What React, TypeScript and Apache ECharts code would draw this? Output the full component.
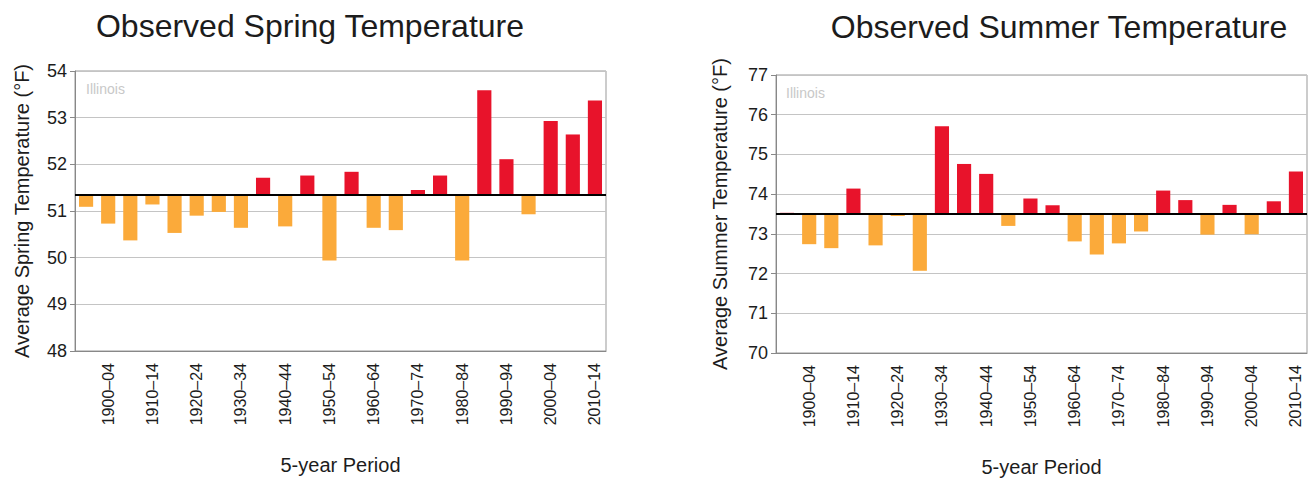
import React, { useEffect, useRef } from "react";
import * as echarts from "echarts";

const periods = [
  "1895–99", "1900–04", "1905–09", "1910–14", "1915–19", "1920–24", "1925–29", "1930–34",
  "1935–39", "1940–44", "1945–49", "1950–54", "1955–59", "1960–64", "1965–69", "1970–74",
  "1975–79", "1980–84", "1985–89", "1990–94", "1995–99", "2000–04", "2005–09", "2010–14",
];

const springValues = [
  51.09, 50.73, 50.37, 51.14, 50.53, 50.9, 50.98, 50.64, 51.71, 50.67, 51.76, 49.94,
  51.84, 50.64, 50.59, 51.45, 51.76, 49.94, 53.59, 52.11, 50.93, 52.93, 52.64, 53.37,
];
const springBaseline = 51.34;

const summerValues = [
  73.53, 72.74, 72.64, 74.14, 72.71, 73.45, 72.07, 75.71, 74.76, 74.51, 73.2, 73.89,
  73.72, 72.81, 72.48, 72.76, 73.06, 74.09, 73.85, 72.98, 73.73, 72.99, 73.82, 74.57,
];
const summerBaseline = 73.5;

const springTicks = { min: 48, max: 54 };
const summerTicks = { min: 70, max: 77 };

const RED = "#e8132b";
const ORANGE = "#fbaa3a";
const FONT = "'Liberation Sans', Arial, sans-serif";
const TEXT = "#1c1c1c";

export default function App() {
  const ref = useRef<HTMLDivElement>(null);

  useEffect(() => {
    if (!ref.current) return;
    const chart = echarts.init(ref.current, undefined, { renderer: "svg" });

    const grids = [
      { left: 75, top: 71, width: 531, height: 280 },
      { left: 776, top: 75, width: 531, height: 281 },
    ];

    const makeX = (gridIndex: number, nameGap: number) => ({
      type: "category",
      gridIndex,
      data: periods,
      boundaryGap: true,
      name: "5-year Period",
      nameLocation: "middle",
      nameGap,
      nameTextStyle: { fontFamily: FONT, fontSize: 20, color: TEXT },
      axisLine: { lineStyle: { color: "#888", width: 1 } },
      axisTick: { alignWithLabel: true, interval: 0, length: 5, lineStyle: { color: "#888" } },
      axisLabel: {
        rotate: 90,
        interval: (i: number) => i % 2 === 1,
        fontFamily: FONT,
        fontSize: 16,
        color: TEXT,
        margin: 12,
      },
      splitLine: { show: false },
    });

    const makeY = (gridIndex: number, ticks: { min: number; max: number }, name: string, nameGap: number) => ({
      type: "value",
      gridIndex,
      min: ticks.min,
      max: ticks.max,
      interval: 1,
      name,
      nameLocation: "middle",
      nameRotate: 90,
      nameGap,
      nameTextStyle: { fontFamily: FONT, fontSize: 20, color: TEXT },
      axisLine: { show: true, lineStyle: { color: "#888" } },
      axisTick: { show: true, length: 5, lineStyle: { color: "#888" } },
      axisLabel: { fontFamily: FONT, fontSize: 18, color: TEXT, margin: 8 },
      splitLine: { lineStyle: { color: "#c4c4c4", width: 1 } },
    });

    const makeSeries = (idx: number, values: number[], base: number) => {
      const stack = "s" + idx;
      return [
        {
          type: "bar",
          xAxisIndex: idx,
          yAxisIndex: idx,
          stack,
          barWidth: "64%",
          silent: true,
          itemStyle: { color: "transparent" },
          data: values.map((v) => Math.min(v, base)),
        },
        {
          type: "bar",
          xAxisIndex: idx,
          yAxisIndex: idx,
          stack,
          barWidth: "64%",
          data: values.map((v) => ({
            value: Math.abs(v - base),
            itemStyle: { color: v >= base ? RED : ORANGE },
          })),
          markLine: {
            silent: true,
            symbol: "none",
            label: { show: false },
            lineStyle: { color: "#000", width: 2, type: "solid" },
            data: [{ yAxis: base }],
          },
        },
      ];
    };

    chart.setOption({
      animation: false,
      backgroundColor: "#fff",
      title: [
        {
          text: "Observed Spring Temperature",
          left: 305,
          top: 5,
          textAlign: "center",
          textStyle: { fontFamily: FONT, fontSize: 32, fontWeight: "normal", color: TEXT },
        },
        {
          text: "Observed Summer Temperature",
          left: 1054,
          top: 6,
          textAlign: "center",
          textStyle: { fontFamily: FONT, fontSize: 32, fontWeight: "normal", color: TEXT },
        },
      ],
      grid: grids.map((g) => ({
        ...g,
        show: true,
        borderColor: "#999",
        borderWidth: 1,
        backgroundColor: "transparent",
      })),
      xAxis: [makeX(0, 104), makeX(1, 104)],
      yAxis: [
        makeY(0, springTicks, "Average Spring Temperature (°F)", 43),
        makeY(1, summerTicks, "Average Summer Temperature (°F)", 46),
      ],
      series: [...makeSeries(0, springValues, springBaseline), ...makeSeries(1, summerValues, summerBaseline)],
      graphic: [
        {
          type: "text",
          left: 86,
          top: 82,
          style: { text: "Illinois", fontFamily: FONT, fontSize: 14, fill: "#c8c8c8" },
        },
        {
          type: "text",
          left: 786,
          top: 86,
          style: { text: "Illinois", fontFamily: FONT, fontSize: 14, fill: "#c8c8c8" },
        },
      ],
    });

    return () => chart.dispose();
  }, []);

  return (
    <div
      ref={ref}
      style={{ position: "absolute", left: 0, top: 0, width: 1314, height: 482, background: "#fff" }}
    />
  );
}
